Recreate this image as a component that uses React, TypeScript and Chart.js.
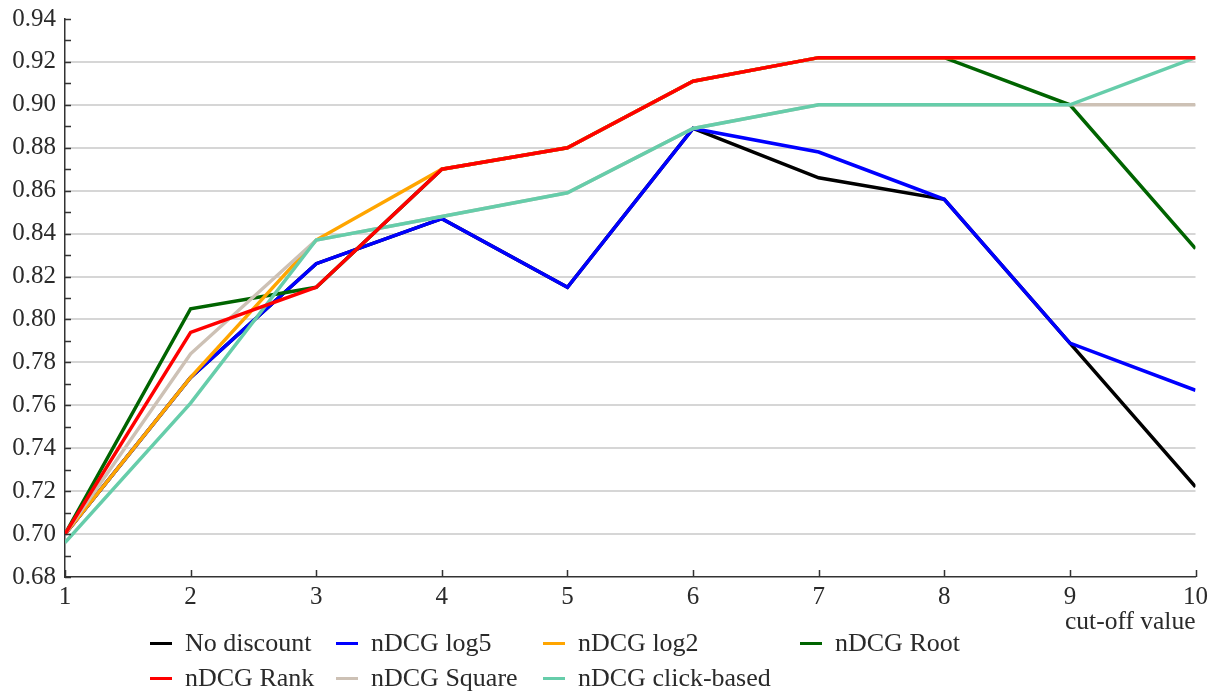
import React, { useEffect, useRef } from "react";
import { Chart, registerables } from "chart.js";

Chart.register(...registerables);

const cutoffs = [1, 2, 3, 4, 5, 6, 7, 8, 9, 10];
const noDiscount = [0.7, 0.773, 0.826, 0.847, 0.815, 0.889, 0.866, 0.856, 0.789, 0.722];
const nDCGlog5 = [0.7, 0.773, 0.826, 0.847, 0.815, 0.889, 0.878, 0.856, 0.789, 0.767];
const nDCGlog2 = [0.7, 0.773, 0.837, 0.87, 0.88, 0.911, 0.922, 0.922, 0.922, 0.922];
const nDCGroot = [0.7, 0.805, 0.815, 0.87, 0.88, 0.911, 0.922, 0.922, 0.9, 0.833];
const nDCGrank = [0.7, 0.794, 0.815, 0.87, 0.88, 0.911, 0.922, 0.922, 0.922, 0.922];
const nDCGsquare = [0.7, 0.784, 0.837, 0.848, 0.859, 0.889, 0.9, 0.9, 0.9, 0.9];
const nDCGclick = [0.696, 0.761, 0.837, 0.848, 0.859, 0.889, 0.9, 0.9, 0.9, 0.922];

const seriesNames = [
  "No discount",
  "nDCG log5",
  "nDCG log2",
  "nDCG Root",
  "nDCG Rank",
  "nDCG Square",
  "nDCG click-based",
];
const seriesValues = [noDiscount, nDCGlog5, nDCGlog2, nDCGroot, nDCGrank, nDCGsquare, nDCGclick];
const seriesColors = ["#000000", "#0000ff", "#ffa500", "#006400", "#ff0000", "#cdc1b5", "#66cdaa"];
const seriesOrder = [7, 6, 4, 5, 1, 3, 2];

const yMin = 0.68;
const yMax = 0.94;
const yStep = 0.02;
const xTitle = "cut-off value";

const FONT = "'Liberation Serif', 'Times New Roman', serif";
const TEXT = "#2a2a2a";

const inwardTicks = {
  id: "inwardTicks",
  afterDraw(chart: any) {
    const { ctx, chartArea, scales } = chart;
    const x = scales.x;
    const y = scales.y;
    ctx.save();
    ctx.strokeStyle = "#333";
    ctx.lineWidth = 1.5;
    ctx.beginPath();
    for (let i = 0; i <= Math.round((yMax - yMin) / 0.01); i++) {
      const py = Math.round(y.getPixelForValue(yMin + i * 0.01)) + 0.5;
      ctx.moveTo(chartArea.left, py);
      ctx.lineTo(chartArea.left + 6, py);
    }
    for (const v of cutoffs) {
      const px = Math.round(x.getPixelForValue(v)) + 0.5;
      ctx.moveTo(px, chartArea.bottom);
      ctx.lineTo(px, chartArea.bottom - 7);
    }
    ctx.stroke();
    ctx.restore();
  },
};

export default function App() {
  const ref = useRef<HTMLCanvasElement | null>(null);

  useEffect(() => {
    if (!ref.current) return;
    const chart = new Chart(ref.current, {
      type: "line",
      data: {
        datasets: seriesNames.map((name, i) => ({
          label: name,
          data: cutoffs.map((c, j) => ({ x: c, y: seriesValues[i][j] })),
          borderColor: seriesColors[i],
          backgroundColor: seriesColors[i],
          borderWidth: 3.5,
          pointRadius: 0,
          tension: 0,
          order: seriesOrder[i],
        })),
      },
      options: {
        animation: false,
        responsive: false,
        maintainAspectRatio: false,
        layout: { padding: { left: 0, right: 17, top: 19, bottom: 0 } },
        plugins: { legend: { display: false }, tooltip: { enabled: false } },
        scales: {
          x: {
            type: "linear",
            min: 1,
            max: 10,
            ticks: {
              stepSize: 1,
              color: TEXT,
              padding: 5,
              font: { family: FONT, size: 25 },
              maxRotation: 0,
            },
            grid: { display: false, drawTicks: false },
            border: { display: true, color: "#333", width: 1.5 },
            title: {
              display: true,
              text: xTitle,
              align: "end",
              color: TEXT,
              font: { family: FONT, size: 25.5 },
              padding: { top: 0, bottom: 2 },
            },
            afterFit(scale: any) {
              scale.height = 63;
            },
          },
          y: {
            min: yMin,
            max: yMax,
            ticks: {
              stepSize: yStep,
              color: TEXT,
              padding: 9,
              font: { family: FONT, size: 25 },
              callback: (v: any) => Number(v).toFixed(2),
            },
            grid: {
              drawTicks: false,
              lineWidth: 2,
              color: (ctx: any) => {
                const v = ctx.tick ? ctx.tick.value : 0;
                if (Math.abs(v - yMin) < 1e-6 || Math.abs(v - yMax) < 1e-6) return "rgba(0,0,0,0)";
                return "#d6d6d6";
              },
            },
            border: { display: true, color: "#333", width: 1.5 },
            afterFit(scale: any) {
              scale.width = 65;
              scale.paddingTop = 0;
              scale.paddingBottom = 0;
            },
          },
        },
      },
      plugins: [inwardTicks],
    });
    return () => chart.destroy();
  }, []);

  const colStarts = [150, 336, 543, 800];
  const rowTops = [625, 660];

  return (
    <div style={{ position: "absolute", left: 0, top: 0, width: 1213, height: 691, background: "#fff", fontFamily: FONT }}>
      <canvas ref={ref} width={1213} height={640} style={{ position: "absolute", left: 0, top: 0, width: 1213, height: 640 }} />
      {seriesNames.map((name, i) => (
        <div
          key={name}
          style={{
            position: "absolute",
            left: colStarts[i % 4],
            top: rowTops[Math.floor(i / 4)],
            height: 36,
            display: "flex",
            alignItems: "center",
            fontSize: 26,
            color: TEXT,
            whiteSpace: "nowrap",
          }}
        >
          <span style={{ display: "inline-block", width: 22, height: 3, background: seriesColors[i], marginRight: 13 }} />
          <span>{name}</span>
        </div>
      ))}
    </div>
  );
}
